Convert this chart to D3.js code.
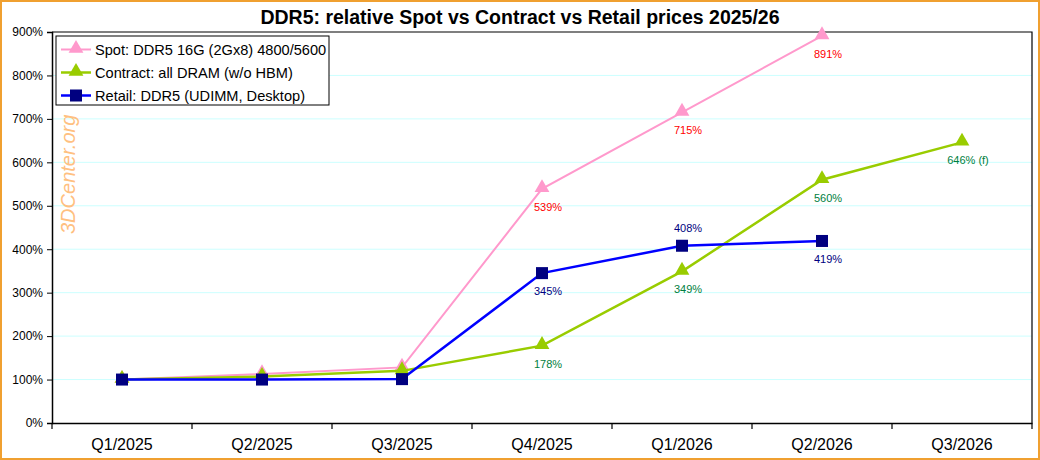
<!doctype html>
<html lang="en">
<head>
    <meta charset="UTF-8">
    <title>DDR5 prices</title>
    <script src="https://cdn.jsdelivr.net/npm/d3@7"></script>
    <style>
        body{
            margin:0;
            font-family: "Liberation Sans", Arial, sans-serif;
        }
        .grid line{
            stroke:#ccffff;
            stroke-width:1px;
        }
        .axis text{
            fill:#000;
        }
    </style>
</head>
<body>
<svg width="1040" height="460"></svg>
<script>
    // quarters on the x axis
    const quarters = ["Q1/2025","Q2/2025","Q3/2025","Q4/2025","Q1/2026","Q2/2026","Q3/2026"];
    // y axis ticks
    const yTicks = [0,100,200,300,400,500,600,700,800,900];

    // series values (percent, Q1/2025 = 100%)
    const spotValues     = [100,113,128,539,715,891,null];
    const contractValues = [100,107,120,178,349,560,646];
    const retailValues   = [100,100,101,345,408,419,null];

    // point labels
    const spotLabels     = [null,null,null,"539%","715%","891%",null];
    const contractLabels = [null,null,null,"178%","349%","560%","646% (f)"];
    const retailLabels   = [null,null,null,"345%","408%","419%",null];
    // label above (-1) or below (+1) the point
    const retailLabelSide = [1,1,1,1,-1,1,1];

    const seriesNames = ["Spot: DDR5 16G (2Gx8) 4800/5600","Contract: all DRAM (w/o HBM)","Retail: DDR5 (UDIMM, Desktop)"];

    const series = [
        {name:seriesNames[0], values:spotValues, labels:spotLabels, side:null,
            line:"#ff99cc", marker:"#ff99cc", text:"#ff0000", width:2, shape:"tri"},
        {name:seriesNames[1], values:contractValues, labels:contractLabels, side:null,
            line:"#99cc00", marker:"#99cc00", text:"#008040", width:2.5, shape:"tri"},
        {name:seriesNames[2], values:retailValues, labels:retailLabels, side:retailLabelSide,
            line:"#0000ff", marker:"#000080", text:"#000080", width:2.5, shape:"sq"}
    ];

    const svg = d3.select("svg");
    const pLeft = 52, pRight = 1032, pTop = 32, pBottom = 423;

    // white background + orange frame
    svg.append("rect").attr("x",1).attr("y",1).attr("width",1038).attr("height",458)
        .attr("fill","#fff").attr("stroke","#f0a030").attr("stroke-width",2);

    // title
    svg.append("text").attr("x",520).attr("y",24).attr("text-anchor","middle")
        .style("font-size","19.5px").style("font-weight","bold")
        .text("DDR5: relative Spot vs Contract vs Retail prices 2025/26");

    const x = d3.scaleBand().domain(quarters).range([pLeft,pRight]);
    const y = d3.scaleLinear().domain([0,900]).range([pBottom,pTop]);

    // grid lines
    svg.append("g").attr("class","grid")
        .selectAll("line").data(yTicks.filter(d=>d>0 && d<900)).enter()
        .append("line")
        .attr("x1",pLeft).attr("x2",pRight)
        .attr("y1",d=>y(d)).attr("y2",d=>y(d));

    // plot frame (top and right)
    svg.append("path")
        .attr("d",`M${pLeft},${pTop}H${pRight}V${pBottom}`)
        .attr("fill","none").attr("stroke","#000").attr("stroke-width",1.2);

    // y axis
    const yAxis = svg.append("g").attr("class","axis")
        .attr("transform",`translate(${pLeft},0)`)
        .call(d3.axisLeft(y).tickValues(yTicks).tickFormat(d=>d+"%").tickSize(5).tickPadding(4));
    yAxis.select(".domain").attr("stroke","#000").attr("stroke-width",1.5);
    yAxis.selectAll("text").style("font-size","12px").style("font-family","\"Liberation Sans\", Arial, sans-serif");

    // x axis: ticks at band edges
    const xAxis = svg.append("g").attr("class","axis")
        .attr("transform",`translate(0,${pBottom})`)
        .call(d3.axisBottom(x).tickSize(0).tickPadding(16));
    xAxis.select(".domain").attr("stroke","#000").attr("stroke-width",1.5);
    xAxis.selectAll("text").style("font-size","16px").style("font-family","\"Liberation Sans\", Arial, sans-serif");
    xAxis.selectAll(".edge").data(quarters.concat([null])).enter()
        .append("line").attr("class","edge")
        .attr("x1",(d,i)=> i<quarters.length ? x(d) : pRight)
        .attr("x2",(d,i)=> i<quarters.length ? x(d) : pRight)
        .attr("y1",0).attr("y2",6)
        .attr("stroke","#000").attr("stroke-width",1.2);

    // watermark
    svg.append("text")
        .attr("transform","translate(75,234) rotate(-90)")
        .style("font-size","20px").style("font-style","italic")
        .attr("fill","#ffc080")
        .text("3DCenter.org");

    const cx = q => x(q) + x.bandwidth()/2;
    const triangle = d3.symbol().type(d3.symbolTriangle).size(95);

    function drawMarker(g, s, px, py){
        if(s.shape==="tri"){
            g.append("path").attr("d",triangle).attr("transform",`translate(${px},${py-1})`)
                .attr("fill",s.marker);
        } else {
            g.append("rect").attr("x",px-6).attr("y",py-6).attr("width",12).attr("height",12)
                .attr("fill",s.marker);
        }
    }

    series.forEach(s=>{
        const pts = quarters.map((q,i)=>({q:q, v:s.values[i], label:s.labels[i], side:s.side ? s.side[i] : 1}))
            .filter(d=>d.v!==null);
        const g = svg.append("g");
        const line = d3.line().x(d=>cx(d.q)).y(d=>y(d.v));
        g.append("path").datum(pts)
            .attr("d",line).attr("fill","none")
            .attr("stroke",s.line).attr("stroke-width",s.width);
        pts.forEach(d=>drawMarker(g,s,cx(d.q),y(d.v)));
        g.selectAll(".lbl").data(pts.filter(d=>d.label)).enter()
            .append("text").attr("class","lbl")
            .attr("x",d=>cx(d.q)+6)
            .attr("y",d=>y(d.v) + (d.side>0 ? 22 : -14))
            .attr("text-anchor","middle")
            .style("font-size","11px")
            .attr("fill",s.text)
            .text(d=>d.label);
    });

    // legend
    const legend = svg.append("g").attr("transform","translate(56,36)");
    legend.append("rect").attr("width",273).attr("height",69)
        .attr("fill","#fff").attr("stroke","#000").attr("stroke-width",1);
    series.forEach((s,i)=>{
        const ly = 13.5 + i*23;
        legend.append("line").attr("x1",5).attr("x2",35).attr("y1",ly).attr("y2",ly)
            .attr("stroke",s.line).attr("stroke-width",s.width);
        drawMarker(legend,s,20,ly);
        legend.append("text").attr("x",39).attr("y",ly+5)
            .style("font-size","14.6px").text(s.name);
    });
</script>
</body>
</html>
